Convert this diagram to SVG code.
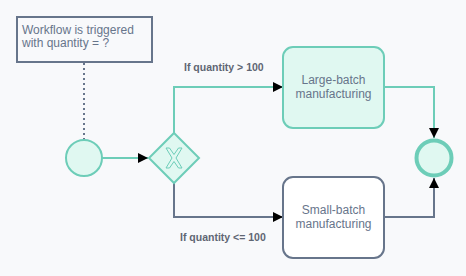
<svg xmlns="http://www.w3.org/2000/svg" width="466" height="276" viewBox="0 0 466 276">
<defs>
<style>
.t{font-family:"Liberation Sans",Arial,sans-serif;font-size:12px;fill:#67758b}
.lbl{font-family:"Liberation Sans",Arial,sans-serif;font-size:10.5px;font-weight:bold;fill:#5f6673}
.teal{stroke:#6dcdb8;fill:none;stroke-width:2}
.gray{stroke:#67758b;fill:none;stroke-width:2}
</style>
<marker id="ah" viewBox="0 0 10 10" refX="10" refY="5" markerWidth="10" markerHeight="10" markerUnits="userSpaceOnUse" orient="auto">
<path d="M0,0 L10,5 L0,10 Z" fill="#000"/>
</marker>
</defs>
<rect width="466" height="276" fill="#f8f9fb"/>
<g id="connectors">
<line x1="84" y1="63" x2="84" y2="139" stroke="#67758b" stroke-width="2" stroke-dasharray="2,3"/>
<path class="teal" d="M102,158 L148,158" marker-end="url(#ah)"/>
<path class="teal" d="M174,133 L174,87 L283,87" marker-end="url(#ah)"/>
<path class="gray" d="M174,183 L174,217 L283,217" marker-end="url(#ah)"/>
<path class="teal" d="M384,87 L434,87 L434,138" marker-end="url(#ah)"/>
<path class="gray" d="M384,217 L434,217 L434,178" marker-end="url(#ah)"/>
<text class="lbl" x="184" y="71">If quantity &gt; 100</text>
<text class="lbl" x="180" y="241">If quantity &lt;= 100</text>
</g>
<g id="note">
<rect x="17" y="17" width="135" height="45" fill="#f8f9fb" stroke="#67758b" stroke-width="2"/>
<text class="t" x="22" y="34">Workflow is triggered</text>
<text class="t" x="22" y="47">with quantity = ?</text>
</g>
<g id="start">
<circle cx="84" cy="158" r="18" fill="#e0f8f1" stroke="#6dcdb8" stroke-width="2"/>
</g>
<g id="gateway">
<polygon points="174,133 199,158 174,183 149,158" fill="#e0f8f1" stroke="#6dcdb8" stroke-width="2"/>
<polygon points="166,148 169.5,148 174,154.5 178.5,148 182,148 176,158 182,168 178.5,168 174,161.5 169.5,168 166,168 172,158" fill="#e0f8f1" stroke="#6dcdb8" stroke-width="1"/>
</g>
<g id="large">
<rect x="283" y="47" width="101" height="81" rx="10" fill="#e0f8f1" stroke="#6dcdb8" stroke-width="2"/>
<text class="t" x="333.5" y="84" text-anchor="middle">Large-batch</text>
<text class="t" x="333.5" y="98" text-anchor="middle">manufacturing</text>
</g>
<g id="small">
<rect x="283" y="177" width="101" height="81" rx="10" fill="#ffffff" stroke="#67758b" stroke-width="2"/>
<text class="t" x="333.5" y="214" text-anchor="middle">Small-batch</text>
<text class="t" x="333.5" y="228" text-anchor="middle">manufacturing</text>
</g>
<g id="end">
<circle cx="434" cy="158" r="17.5" fill="#e0f8f1" stroke="#6dcdb8" stroke-width="4"/>
</g>
</svg>
